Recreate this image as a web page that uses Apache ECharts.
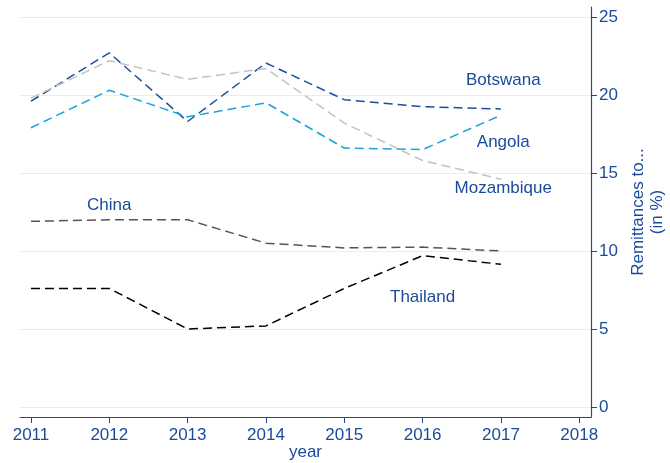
<!DOCTYPE html>
<html lang="en">
<head>
    <meta charset="UTF-8">
    <title>Remittances</title>
    <script src="https://cdn.jsdelivr.net/npm/echarts@6/dist/echarts.min.js"></script>
</head>
<body style="margin:0">
<div id="mybox" style="height: 463px;width: 670px;"></div>
<script>
    var years = [2011, 2012, 2013, 2014, 2015, 2016, 2017];
    var yearTicks = [2011, 2012, 2013, 2014, 2015, 2016, 2017, 2018];
    var valueTicks = [0, 5, 10, 15, 20, 25];

    var botswana = [19.6, 22.7, 18.3, 22.05, 19.7, 19.25, 19.1];
    var mozambique = [19.8, 22.2, 21.0, 21.7, 18.2, 15.8, 14.6];
    var angola = [17.9, 20.3, 18.6, 19.5, 16.6, 16.5, 18.7];
    var china = [11.9, 12.0, 12.0, 10.5, 10.2, 10.25, 10.0];
    var thailand = [7.6, 7.6, 5.0, 5.2, 7.6, 9.7, 9.15];

    var textBlue = '#1a4a9c';
    var font = 'Liberation Sans, Arial, sans-serif';

    function pairs(vals) {
        return years.map(function (y, i) { return [y, vals[i]]; });
    }
    // country name placed as a text-only mark point
    function nameTag(text, at) {
        return {
            symbol: 'circle', symbolSize: 0, silent: true,
            label: {show: true, position: 'inside', formatter: text, color: textBlue,
                fontFamily: font, fontSize: 17},
            data: [{coord: at}]
        };
    }
    function line(name, vals, color, at) {
        return {
            name: name, type: 'line', data: pairs(vals), showSymbol: false,
            lineStyle: {color: color, width: 1.5, type: [9, 5]},
            itemStyle: {color: color},
            animation: false,
            markPoint: nameTag(name, at)
        };
    }

    var mychart = echarts.init(document.getElementById('mybox'));
    mychart.setOption({
        animation: false,
        grid: {left: 20, right: 79, top: 7, bottom: 46, outerBoundsMode: 'none', containLabel: false},
        xAxis: {
            type: 'value', min: 2010.86, max: 2018.15,
            name: 'year', nameLocation: 'middle', nameGap: 27, nameMoveOverlap: false,
            nameTextStyle: {color: textBlue, fontFamily: font, fontSize: 17},
            axisLine: {onZero: false, lineStyle: {color: textBlue, width: 1.2}},
            axisTick: {show: true, inside: false, length: 6, customValues: yearTicks,
                lineStyle: {color: textBlue, width: 1}},
            axisLabel: {customValues: yearTicks, color: textBlue, fontFamily: font, fontSize: 17, margin: 10,
                formatter: function (v) { return String(v); }},
            splitLine: {show: false}
        },
        yAxis: {
            type: 'value', position: 'right', min: -0.64, max: 25.64,
            name: 'Remittances to...\n(in %)', nameLocation: 'middle', nameGap: 36, nameRotate: 90,
            nameTextStyle: {color: textBlue, fontFamily: font, fontSize: 17, lineHeight: 19},
            axisLine: {show: true, onZero: false, lineStyle: {color: textBlue, width: 1.2}},
            axisTick: {show: true, inside: false, length: 6, customValues: valueTicks,
                lineStyle: {color: textBlue, width: 1}},
            axisLabel: {customValues: valueTicks, color: textBlue, fontFamily: font, fontSize: 17, margin: 8},
            splitLine: {show: true, lineStyle: {color: '#e8eeee', width: 1.2}}
        },
        series: [
            line('Botswana', botswana, '#1b4f9e', [2017.03, 20.95]),
            line('Mozambique', mozambique, '#c2c2c2', [2017.03, 14.0]),
            line('Angola', angola, '#1aa3de', [2017.03, 16.95]),
            line('China', china, '#555555', [2012.0, 12.95]),
            line('Thailand', thailand, '#000000', [2016.0, 7.0])
        ]
    });
</script>
</body>
</html>
